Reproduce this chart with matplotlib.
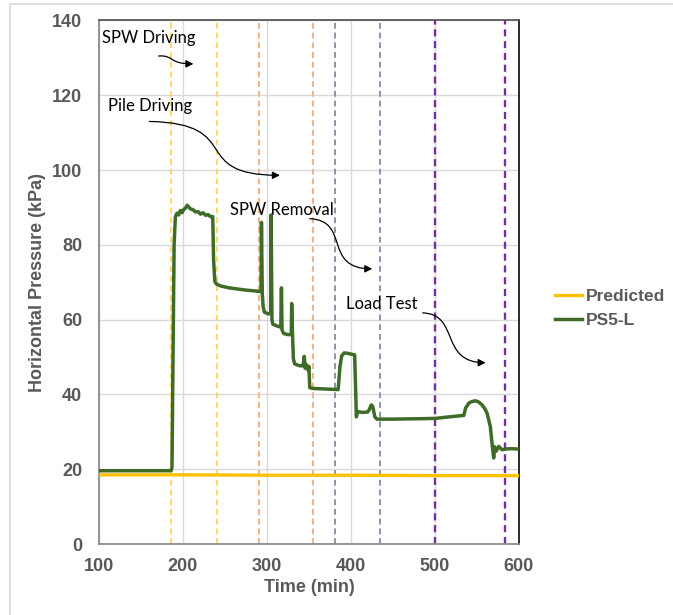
import numpy as np
import matplotlib.pyplot as plt
from matplotlib.path import Path
from matplotlib.patches import FancyArrowPatch
from matplotlib.lines import Line2D


##################################################################
## Data ##########################################################
##################################################################

time_ps5 = [100, 186, 187, 188, 189.5, 191, 193, 195, 197, 199, 201, 203, 205,
            207, 209, 212, 215, 218, 221, 224, 227, 230, 233, 235.5, 236.5, 238,
            240, 245, 255, 265, 275, 285, 293, 293.5, 294.5, 295.5, 297, 302,
            304.5, 305, 306, 307, 312, 316.5, 317.3, 318, 320, 325, 329, 329.5,
            330.5, 331.5, 333, 337, 341, 343, 344.5, 345.5, 347, 349, 350, 351,
            355, 365, 375, 384.8, 387, 389, 392, 396, 400, 404.5, 405.3, 406.5,
            408, 414, 420, 422, 424.3, 426, 428.5, 431, 450, 480, 500.9, 516.7,
            534.5, 536.5, 540.4, 544, 548.3, 552, 556.2, 560, 562.1, 566, 568,
            570, 571.2, 572.8, 576, 580, 583.9, 590, 600]
pres_ps5 = [19.6, 19.6, 20.5, 45, 80, 87.5, 88.5, 88.0, 89.2, 88.6, 89.5, 89.8,
            90.6, 90.1, 89.6, 89.4, 88.8, 88.9, 88.2, 88.6, 87.9, 88.1, 87.5, 87.6,
            76, 70.2, 69.5, 69.0, 68.5, 68.2, 67.9, 67.7, 67.5, 86, 67, 63.5,
            62.0, 61.5, 61.8, 88, 60, 58.8, 58.3, 58.0, 68.5, 57.2, 56.3, 56.0,
            56.0, 64.3, 56.0, 49.5, 48.2, 47.8, 47.6, 47.8, 50.2, 47.0, 48.0, 46.5,
            47.5, 41.8, 41.6, 41.5, 41.4, 41.3, 47.5, 50.3, 51.1, 51.0, 50.8, 50.6,
            44, 34.0, 35.4, 35.2, 35.3, 36.0, 37.2, 36.8, 34.0, 33.4, 33.4, 33.5,
            33.6, 34.0, 34.4, 36.3, 37.7, 38.1, 38.3, 38.0, 37.2, 36.0, 35.0, 31.4,
            27.0, 23.0, 26.0, 24.8, 26.1, 25.2, 25.4, 25.5, 25.4]

# Predicted horizontal pressure
time_pred = [100, 200, 300, 400, 500, 600]
pres_pred = [18.5, 18.5, 18.4, 18.4, 18.3, 18.3]

# stage boundaries (min)
stage_times = [186, 240.5, 291, 355, 381, 435, 500, 584]
stage_colors = ['#FFD966', '#FFD966', '#F4B183', '#F4B183',
                '#8497B0', '#8497B0', '#7030A0', '#7030A0']

# annotations: label, text position, arrow control points (start, c1, c2, end)
notes = [
    ('SPW Driving', (104, 135.2),
     [(171, 130.5), (190, 130.8), (182, 128.4), (212.5, 128.4)]),
    ('Pile Driving', (111, 117.1),
     [(160, 113), (275, 112.5), (205, 98.6), (315.5, 98.6)]),
    ('SPW Removal', (256.5, 89.4),
     [(351, 87), (400, 86.5), (366, 73.6), (425.5, 73.6)]),
    ('Load Test', (394, 64.2),
     [(485.5, 61.8), (530, 61.5), (505, 48.5), (560.5, 48.5)]),
]

##################################################################
## Plot ##########################################################
##################################################################

grey = '#595959'
tick_font = {'family': 'Liberation Sans', 'weight': 'bold', 'size': 13}

fig = plt.figure(figsize=(6.73, 6.15), dpi=100)
ax = fig.add_axes([0.147, 0.1154, 0.624, 0.8513])

# outer chart border (only top and left show in the picture)
fig.add_artist(Line2D([0.015, 1.0], [0.9935, 0.9935], color='#D9D9D9', lw=1.2))
fig.add_artist(Line2D([0.015, 0.015], [0.0, 0.9935], color='#D9D9D9', lw=1.2))

for t, c in zip(stage_times, stage_colors):
    lw = 1.7 if c == '#7030A0' else 1.4
    ax.axvline(t, color=c, lw=lw, ls=(0, (3, 2)), zorder=1.5)

ax.plot(time_pred, pres_pred, color='#FFC000', lw=2.4, label='Predicted', zorder=3)
ax.plot(time_ps5, pres_ps5, color='#3E6B27', lw=2.5, label='PS5-L', zorder=4)

for label, xy_text, pts in notes:
    ax.text(xy_text[0], xy_text[1], label, fontsize=12, family='Lato',
            ha='left', va='center', color='black')
    path = Path(pts, [Path.MOVETO, Path.CURVE4, Path.CURVE4, Path.CURVE4])
    arr = FancyArrowPatch(path=path, arrowstyle='-|>', mutation_scale=11,
                          color='black', lw=0.9, zorder=5)
    ax.add_patch(arr)

ax.set_xlim(100, 600)
ax.set_ylim(0, 140)
ax.set_xticks(np.arange(100, 601, 100))
ax.set_yticks(np.arange(0, 141, 20))
ax.grid(True, color='#D9D9D9', lw=1, zorder=0)
ax.set_axisbelow(True)
ax.tick_params(length=0, colors=grey)
ax.tick_params(axis='y', pad=12)
ax.tick_params(axis='x', pad=10)
for lab in ax.get_xticklabels() + ax.get_yticklabels():
    lab.set_fontproperties(tick_font)
    lab.set_color(grey)

ax.spines['left'].set_color('#8C8C8C')
ax.spines['bottom'].set_color('#8C8C8C')
ax.spines['top'].set_color('#595959')
ax.spines['right'].set_color('#1A1A1A')
for s in ax.spines.values():
    s.set_linewidth(1.3)

ax.set_xlabel('Time (min)', family='Liberation Sans', weight='bold',
              size=13, color=grey, labelpad=3)
ax.set_ylabel('Horizontal Pressure (kPa)', family='Liberation Sans',
              weight='bold', size=13, color=grey, labelpad=4)

leg = fig.legend(loc='center left', bbox_to_anchor=(0.8247, 0.498),
                 bbox_transform=fig.transFigure, frameon=False,
                 borderpad=0, borderaxespad=0, handlelength=1.55,
                 handletextpad=0.25, labelspacing=0.5,
                 prop={'family': 'Liberation Sans', 'weight': 'bold', 'size': 12.5})
for txt in leg.get_texts():
    txt.set_color(grey)

plt.savefig('out.png', dpi=100)
